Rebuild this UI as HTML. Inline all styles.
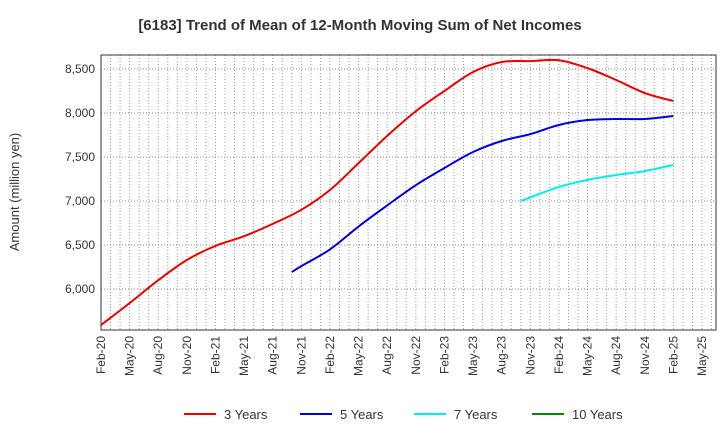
<!DOCTYPE html>
<html><head><meta charset="utf-8"><style>
body{margin:0;background:#fff;font-family:"Liberation Sans",sans-serif}
</style></head><body>
<svg id="c" width="720" height="440" xmlns="http://www.w3.org/2000/svg" font-family="Liberation Sans, sans-serif"></svg>
<script>
const xLabels=["Feb-20","May-20","Aug-20","Nov-20","Feb-21","May-21","Aug-21","Nov-21","Feb-22","May-22","Aug-22","Nov-22","Feb-23","May-23","Aug-23","Nov-23","Feb-24","May-24","Aug-24","Nov-24","Feb-25","May-25"];
const yTicks=[6000,6500,7000,7500,8000,8500];
const months3=[0,3,6,9,12,15,18,21,24,27,30,33,36,39,42,45,48,51,54,57,60];
const vals3=[5591,5840,6100,6330,6490,6600,6740,6900,7125,7430,7740,8020,8250,8466,8580,8590,8600,8510,8375,8227,8136];
const months5=[20,21,24,27,30,33,36,39,42,45,48,51,54,57,60];
const vals5=[6193,6260,6450,6710,6950,7180,7375,7557,7682,7760,7864,7920,7932,7932,7966];
const months7=[44,48,51,54,57,60];
const vals7=[7000,7160,7240,7295,7340,7410];
const months10=[];const vals10=[];
const svg=document.getElementById('c');const NS='http://www.w3.org/2000/svg';
const L=101,R=716,T=55,B=330;
const X=m=>L+m*9.54;
const Y=v=>289-(v-6000)*44/500;
function mk(t,a,p){const e=document.createElementNS(NS,t);for(const k in a)e.setAttribute(k,a[k]);(p||svg).appendChild(e);return e;}
const t=mk('text',{x:360,y:30,'text-anchor':'middle','font-size':15,'font-weight':'bold',fill:'#333'});

t.textContent='[6183]  Trend of Mean of 12-Month Moving Sum of Net Incomes';
const g=mk('g',{});
for(let m=1;X(m)<R;m++)mk('line',{x1:X(m),x2:X(m),y1:T,y2:B,stroke:'#999','stroke-dasharray':'1,2','stroke-width':1},g);
yTicks.forEach(v=>mk('line',{x1:L,x2:R,y1:Y(v),y2:Y(v),stroke:'#888','stroke-dasharray':'1,2'},g));
mk('rect',{x:L,y:T,width:R-L,height:B-T,fill:'none',stroke:'#333'});
yTicks.forEach(v=>{const e=mk('text',{x:L-6,y:Y(v)+4,'text-anchor':'end','font-size':12,fill:'#333'});e.textContent=v.toLocaleString('en-US');});
xLabels.forEach((s,i)=>{const x=X(i*3);const e=mk('text',{transform:`translate(${x+4},336) rotate(-90)`,'text-anchor':'end','font-size':12,fill:'#333'});e.textContent=s;});
const yt=mk('text',{transform:'translate(19,192) rotate(-90)','text-anchor':'middle','font-size':13,fill:'#333'});
yt.textContent='Amount (million yen)';
function path(ms,vs){if(!ms.length)return '';const p=ms.map((m,i)=>[X(m),Y(vs[i])]);let d=`M${p[0][0]},${p[0][1]}`;
for(let i=0;i<p.length-1;i++){const p0=p[i-1]||p[i],p1=p[i],p2=p[i+1],p3=p[i+2]||p2;
d+=`C${p1[0]+(p2[0]-p0[0])/6},${p1[1]+(p2[1]-p0[1])/6} ${p2[0]-(p3[0]-p1[0])/6},${p2[1]-(p3[1]-p1[1])/6} ${p2[0]},${p2[1]}`;}return d;}
const series=[["3 Years","#e00",months3,vals3],["5 Years","#00d",months5,vals5],["7 Years","#0ee",months7,vals7],["10 Years","#080",months10,vals10]];
series.forEach((s,i)=>{if(s[2].length){const e=mk('path',{d:path(s[2],s[3]),fill:'none',stroke:s[1],'stroke-width':2});}
const lx=[184,300,414,532][i];const lg=mk('g',{});
mk('line',{x1:lx,x2:lx+32,y1:414,y2:414,stroke:s[1],'stroke-width':2},lg);
const tx=mk('text',{x:lx+40,y:419,'font-size':13,fill:'#333'},lg);tx.textContent=s[0];});
</script></body></html>
